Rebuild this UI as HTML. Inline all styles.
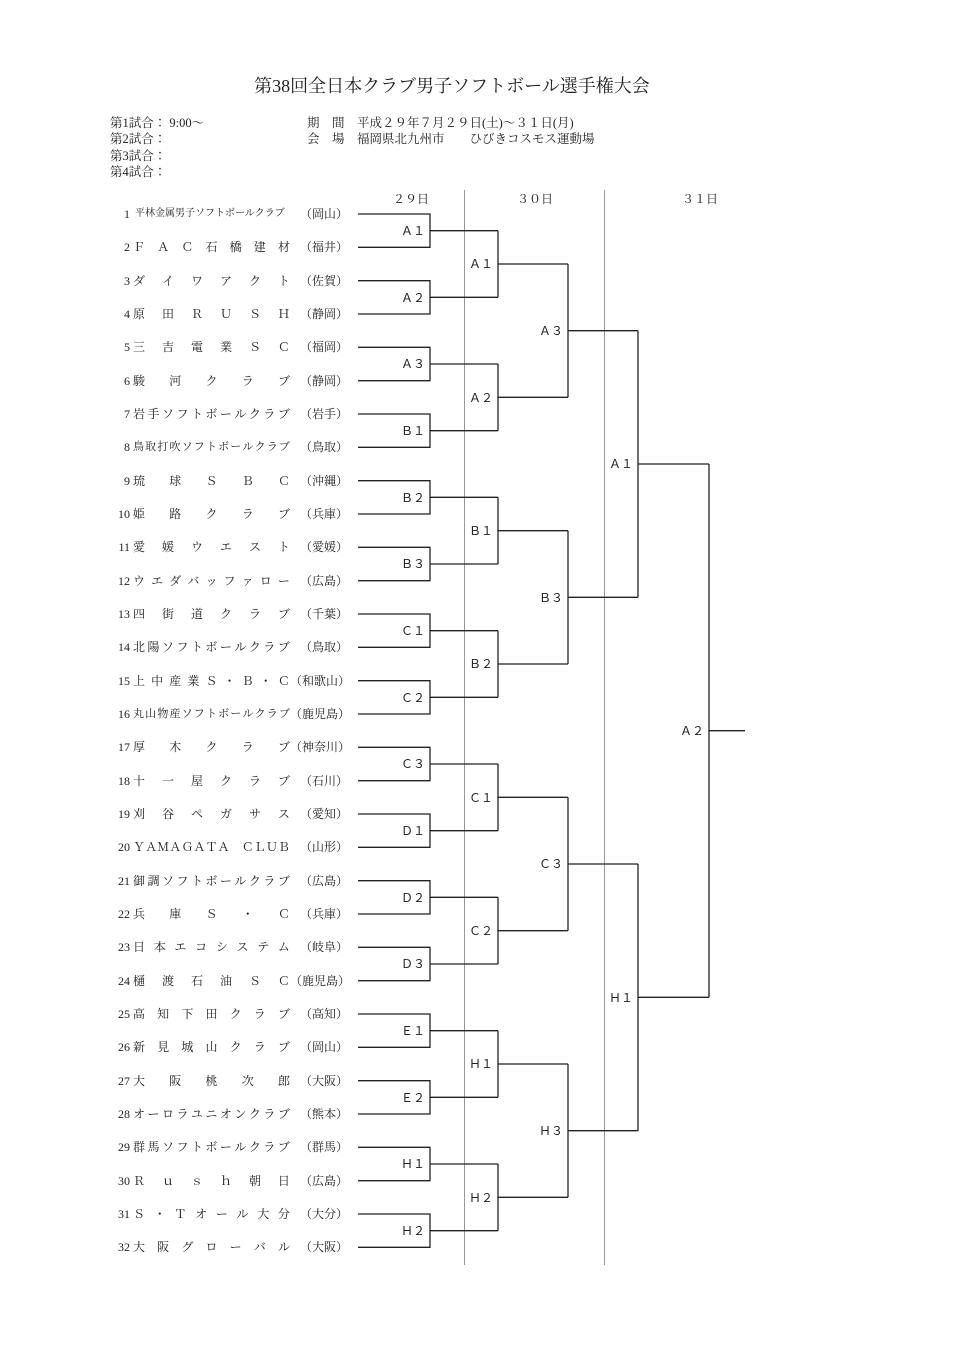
<!DOCTYPE html>
<html><head><meta charset="utf-8"><style>
body{margin:0;background:#fff;}
#p{position:relative;width:960px;height:1358px;overflow:hidden;font-family:"Liberation Serif","Noto Serif CJK JP",serif;color:#222;}
.t{position:absolute;left:0;width:904px;text-align:center;top:72px;font-size:18px;}
.h{position:absolute;font-size:12.5px;line-height:16.3px;}
.n{position:absolute;left:106px;width:24px;text-align:right;font-size:12px;line-height:16px;}
.m{position:absolute;left:133px;width:157px;font-size:12px;line-height:16px;display:flex;justify-content:space-between;white-space:nowrap;}
.m i{font-style:normal;}
.s{font-size:11px;}
.f{position:absolute;left:290px;width:58px;text-align:right;font-size:12px;line-height:16px;white-space:nowrap;}
svg{position:absolute;left:0;top:0;}
</style></head><body><div id="p">
<div class="t">第38回全日本クラブ男子ソフトボール選手権大会</div>
<div class="h" style="left:110px;top:115px">第1試合： 9:00～<br>第2試合：<br>第3試合：<br>第4試合：</div>
<div class="h" style="left:307px;top:115px">期　間　平成２９年７月２９日(土)～３１日(月)<br>会　場　福岡県北九州市　　ひびきコスモス運動場</div>

<svg width="960" height="1358" viewBox="0 0 960 1358">
<g stroke="#999" stroke-width="1"><path d="M464.5 190V1265M604.5 190V1265"/></g>
<g stroke="#222" stroke-width="1.3" fill="none">
<path d="M358 214H430V247.3H358M430 230.7H498 M358 280.7H430V314H358M430 297.3H498 M358 347.3H430V380.7H358M430 364H498 M358 414H430V447.3H358M430 430.7H498 M358 480.7H430V514H358M430 497.3H498 M358 547.3H430V580.7H358M430 564H498 M358 614H430V647.3H358M430 630.7H498 M358 680.7H430V714H358M430 697.3H498 M358 747.3H430V780.7H358M430 764H498 M358 814H430V847.3H358M430 830.7H498 M358 880.7H430V914H358M430 897.3H498 M358 947.3H430V980.7H358M430 964H498 M358 1014H430V1047.3H358M430 1030.7H498 M358 1080.7H430V1114H358M430 1097.3H498 M358 1147.3H430V1180.7H358M430 1164H498 M358 1214H430V1247.3H358M430 1230.7H498"/>
<path d="M498 230.7V297.3M498 264H568 M498 364V430.7M498 397.3H568 M498 497.3V564M498 530.7H568 M498 630.7V697.3M498 664H568 M498 764V830.7M498 797.3H568 M498 897.3V964M498 930.7H568 M498 1030.7V1097.3M498 1064H568 M498 1164V1230.7M498 1197.3H568"/>
<path d="M568 264V397.3M568 330.7H638 M568 530.7V664M568 597.3H638 M568 797.3V930.7M568 864H638 M568 1064V1197.3M568 1130.7H638"/>
<path d="M638 330.7V597.3M638 464H709 M638 864V1130.7M638 997.3H709"/>
<path d="M709 464V997.3M709 730.7H745"/>
</g>
<g font-family="Liberation Sans,Noto Sans CJK JP,sans-serif" font-size="12" fill="#222" text-anchor="end">
<text x="425" y="235">Ａ１</text><text x="425" y="302">Ａ２</text><text x="425" y="368">Ａ３</text><text x="425" y="435">Ｂ１</text><text x="425" y="502">Ｂ２</text><text x="425" y="568">Ｂ３</text><text x="425" y="635">Ｃ１</text><text x="425" y="702">Ｃ２</text><text x="425" y="768">Ｃ３</text><text x="425" y="835">Ｄ１</text><text x="425" y="902">Ｄ２</text><text x="425" y="968">Ｄ３</text><text x="425" y="1035">Ｅ１</text><text x="425" y="1102">Ｅ２</text><text x="425" y="1168">Ｈ１</text><text x="425" y="1235">Ｈ２</text>
<text x="493" y="268">Ａ１</text><text x="493" y="402">Ａ２</text><text x="493" y="535">Ｂ１</text><text x="493" y="668">Ｂ２</text><text x="493" y="802">Ｃ１</text><text x="493" y="935">Ｃ２</text><text x="493" y="1068">Ｈ１</text><text x="493" y="1202">Ｈ２</text>
<text x="563" y="335">Ａ３</text><text x="563" y="602">Ｂ３</text><text x="563" y="868">Ｃ３</text><text x="563" y="1135">Ｈ３</text>
<text x="633" y="468">Ａ１</text><text x="633" y="1002">Ｈ１</text>
<text x="704" y="735">Ａ２</text>
</g>
<g font-family="Liberation Serif,Noto Serif CJK JP,serif" font-size="12" fill="#222">
<text x="393" y="203">２９日</text><text x="517" y="203">３０日</text><text x="682" y="203">３１日</text>
</g>
</svg>

<div class="n" style="top:206px">1</div><div class="m" style="top:206px;font-size:10px;justify-content:flex-start;left:135px">平林金属男子ソフトボールクラブ</div><div class="f" style="top:206px">（岡山）</div>
<div class="n" style="top:239px">2</div><div class="m" style="top:239px"><i>Ｆ</i><i>Ａ</i><i>Ｃ</i><i>石</i><i>橋</i><i>建</i><i>材</i></div><div class="f" style="top:239px">（福井）</div>
<div class="n" style="top:273px">3</div><div class="m" style="top:273px"><i>ダ</i><i>イ</i><i>ワ</i><i>ア</i><i>ク</i><i>ト</i></div><div class="f" style="top:273px">（佐賀）</div>
<div class="n" style="top:306px">4</div><div class="m" style="top:306px"><i>原</i><i>田</i><i>Ｒ</i><i>Ｕ</i><i>Ｓ</i><i>Ｈ</i></div><div class="f" style="top:306px">（静岡）</div>
<div class="n" style="top:339px">5</div><div class="m" style="top:339px"><i>三</i><i>吉</i><i>電</i><i>業</i><i>Ｓ</i><i>Ｃ</i></div><div class="f" style="top:339px">（福岡）</div>
<div class="n" style="top:373px">6</div><div class="m" style="top:373px"><i>駿</i><i>河</i><i>ク</i><i>ラ</i><i>ブ</i></div><div class="f" style="top:373px">（静岡）</div>
<div class="n" style="top:406px">7</div><div class="m" style="top:406px"><i>岩</i><i>手</i><i>ソ</i><i>フ</i><i>ト</i><i>ボ</i><i>ー</i><i>ル</i><i>ク</i><i>ラ</i><i>ブ</i></div><div class="f" style="top:406px">（岩手）</div>
<div class="n" style="top:439px">8</div><div class="m s" style="top:439px"><i>鳥</i><i>取</i><i>打</i><i>吹</i><i>ソ</i><i>フ</i><i>ト</i><i>ボ</i><i>ー</i><i>ル</i><i>ク</i><i>ラ</i><i>ブ</i></div><div class="f" style="top:439px">（鳥取）</div>
<div class="n" style="top:473px">9</div><div class="m" style="top:473px"><i>琉</i><i>球</i><i>Ｓ</i><i>Ｂ</i><i>Ｃ</i></div><div class="f" style="top:473px">（沖縄）</div>
<div class="n" style="top:506px">10</div><div class="m" style="top:506px"><i>姫</i><i>路</i><i>ク</i><i>ラ</i><i>ブ</i></div><div class="f" style="top:506px">（兵庫）</div>
<div class="n" style="top:539px">11</div><div class="m" style="top:539px"><i>愛</i><i>媛</i><i>ウ</i><i>エ</i><i>ス</i><i>ト</i></div><div class="f" style="top:539px">（愛媛）</div>
<div class="n" style="top:573px">12</div><div class="m" style="top:573px"><i>ウ</i><i>エ</i><i>ダ</i><i>バ</i><i>ッ</i><i>フ</i><i>ァ</i><i>ロ</i><i>ー</i></div><div class="f" style="top:573px">（広島）</div>
<div class="n" style="top:606px">13</div><div class="m" style="top:606px"><i>四</i><i>街</i><i>道</i><i>ク</i><i>ラ</i><i>ブ</i></div><div class="f" style="top:606px">（千葉）</div>
<div class="n" style="top:639px">14</div><div class="m" style="top:639px"><i>北</i><i>陽</i><i>ソ</i><i>フ</i><i>ト</i><i>ボ</i><i>ー</i><i>ル</i><i>ク</i><i>ラ</i><i>ブ</i></div><div class="f" style="top:639px">（鳥取）</div>
<div class="n" style="top:673px">15</div><div class="m" style="top:673px"><i>上</i><i>中</i><i>産</i><i>業</i><i>Ｓ</i><i>・</i><i>Ｂ</i><i>・</i><i>Ｃ</i></div><div class="f" style="top:673px">（和歌山）</div>
<div class="n" style="top:706px">16</div><div class="m s" style="top:706px"><i>丸</i><i>山</i><i>物</i><i>産</i><i>ソ</i><i>フ</i><i>ト</i><i>ボ</i><i>ー</i><i>ル</i><i>ク</i><i>ラ</i><i>ブ</i></div><div class="f" style="top:706px">（鹿児島）</div>
<div class="n" style="top:739px">17</div><div class="m" style="top:739px"><i>厚</i><i>木</i><i>ク</i><i>ラ</i><i>ブ</i></div><div class="f" style="top:739px">（神奈川）</div>
<div class="n" style="top:773px">18</div><div class="m" style="top:773px"><i>十</i><i>一</i><i>屋</i><i>ク</i><i>ラ</i><i>ブ</i></div><div class="f" style="top:773px">（石川）</div>
<div class="n" style="top:806px">19</div><div class="m" style="top:806px"><i>刈</i><i>谷</i><i>ペ</i><i>ガ</i><i>サ</i><i>ス</i></div><div class="f" style="top:806px">（愛知）</div>
<div class="n" style="top:839px">20</div><div class="m" style="top:839px"><i>Ｙ</i><i>Ａ</i><i>Ｍ</i><i>Ａ</i><i>Ｇ</i><i>Ａ</i><i>Ｔ</i><i>Ａ</i><i>&#8195;</i><i>Ｃ</i><i>Ｌ</i><i>Ｕ</i><i>Ｂ</i></div><div class="f" style="top:839px">（山形）</div>
<div class="n" style="top:873px">21</div><div class="m" style="top:873px"><i>御</i><i>調</i><i>ソ</i><i>フ</i><i>ト</i><i>ボ</i><i>ー</i><i>ル</i><i>ク</i><i>ラ</i><i>ブ</i></div><div class="f" style="top:873px">（広島）</div>
<div class="n" style="top:906px">22</div><div class="m" style="top:906px"><i>兵</i><i>庫</i><i>Ｓ</i><i>・</i><i>Ｃ</i></div><div class="f" style="top:906px">（兵庫）</div>
<div class="n" style="top:939px">23</div><div class="m" style="top:939px"><i>日</i><i>本</i><i>エ</i><i>コ</i><i>シ</i><i>ス</i><i>テ</i><i>ム</i></div><div class="f" style="top:939px">（岐阜）</div>
<div class="n" style="top:973px">24</div><div class="m" style="top:973px"><i>樋</i><i>渡</i><i>石</i><i>油</i><i>Ｓ</i><i>Ｃ</i></div><div class="f" style="top:973px">（鹿児島）</div>
<div class="n" style="top:1006px">25</div><div class="m" style="top:1006px"><i>高</i><i>知</i><i>下</i><i>田</i><i>ク</i><i>ラ</i><i>ブ</i></div><div class="f" style="top:1006px">（高知）</div>
<div class="n" style="top:1039px">26</div><div class="m" style="top:1039px"><i>新</i><i>見</i><i>城</i><i>山</i><i>ク</i><i>ラ</i><i>ブ</i></div><div class="f" style="top:1039px">（岡山）</div>
<div class="n" style="top:1073px">27</div><div class="m" style="top:1073px"><i>大</i><i>阪</i><i>桃</i><i>次</i><i>郎</i></div><div class="f" style="top:1073px">（大阪）</div>
<div class="n" style="top:1106px">28</div><div class="m" style="top:1106px"><i>オ</i><i>ー</i><i>ロ</i><i>ラ</i><i>ユ</i><i>ニ</i><i>オ</i><i>ン</i><i>ク</i><i>ラ</i><i>ブ</i></div><div class="f" style="top:1106px">（熊本）</div>
<div class="n" style="top:1139px">29</div><div class="m" style="top:1139px"><i>群</i><i>馬</i><i>ソ</i><i>フ</i><i>ト</i><i>ボ</i><i>ー</i><i>ル</i><i>ク</i><i>ラ</i><i>ブ</i></div><div class="f" style="top:1139px">（群馬）</div>
<div class="n" style="top:1173px">30</div><div class="m" style="top:1173px"><i>Ｒ</i><i>ｕ</i><i>ｓ</i><i>ｈ</i><i>朝</i><i>日</i></div><div class="f" style="top:1173px">（広島）</div>
<div class="n" style="top:1206px">31</div><div class="m" style="top:1206px"><i>Ｓ</i><i>・</i><i>Ｔ</i><i>オ</i><i>ー</i><i>ル</i><i>大</i><i>分</i></div><div class="f" style="top:1206px">（大分）</div>
<div class="n" style="top:1239px">32</div><div class="m" style="top:1239px"><i>大</i><i>阪</i><i>グ</i><i>ロ</i><i>ー</i><i>バ</i><i>ル</i></div><div class="f" style="top:1239px">（大阪）</div>
</div></body></html>
